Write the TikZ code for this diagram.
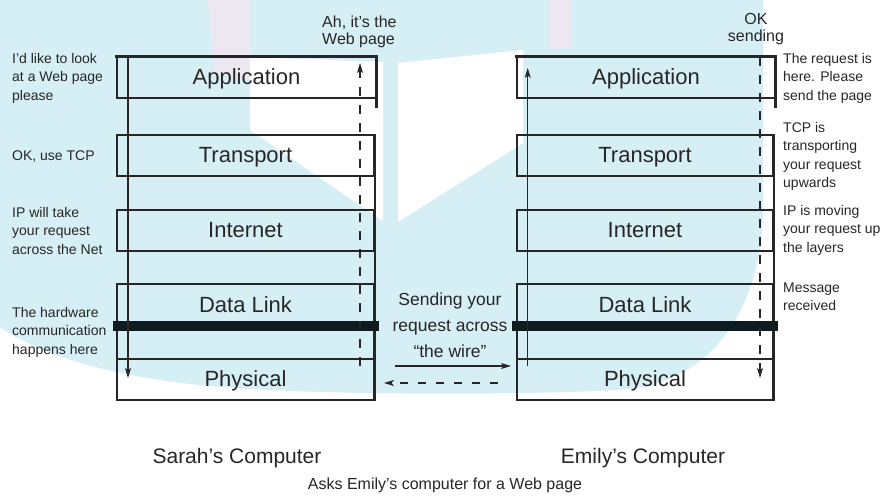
\documentclass[tikz,border=0pt]{standalone}
\usepackage{fontspec}
\setmainfont{Liberation Sans}
\usetikzlibrary{arrows.meta}
\definecolor{wmcyan}{RGB}{214,239,245}
\definecolor{wmlav}{RGB}{236,231,241}
\definecolor{ink}{RGB}{38,38,38}
\definecolor{barink}{RGB}{14,28,32}
\begin{document}
\begin{tikzpicture}[x=1pt,y=-1pt,
  layer/.style={draw=ink, line width=1.1pt, inner sep=0pt, minimum height=41pt,
    text height=16pt, text depth=2pt, text=ink, font=\fontsize{22}{24}\selectfont},
  side/.style={align=left, anchor=base west, inner sep=0pt, text=ink,
    font=\fontsize{14}{18.5}\selectfont},
  toplbl/.style={inner sep=0pt, text=ink, font=\fontsize{16}{17}\selectfont},
  edge/.style={draw=ink, line width=2pt},
  heavy/.style={draw=ink, line width=3.2pt, line cap=butt, line join=miter},
  wire/.style={draw=barink, line width=10pt},
  solidarr/.style={draw=ink, line width=1.1pt, -{Stealth[length=10pt,width=6pt,inset=2.5pt]}},
  dasharr/.style={draw=ink, line width=1.1pt, dash pattern=on 9pt off 9pt,
    -{Stealth[length=10pt,width=6pt,inset=2.5pt]}},
  hdasharr/.style={draw=ink, line width=1.1pt, dash pattern=on 8pt off 10pt,
    -{Stealth[length=10pt,width=6pt,inset=2.5pt]}}
]
\useasboundingbox (0,0) rectangle (895,499);
% watermark
\fill[wmcyan] (0,0) -- (763,0) -- (763,205)
  .. controls (763,300) and (720,372) .. (640,388)
  .. controls (560,396) and (300,396) .. (200,385)
  .. controls (110,376) and (40,355) .. (0,327) -- cycle;
\fill[wmlav] (208,0) -- (250,0) -- (250,80) -- (214,75) -- cycle;
\fill[wmlav] (550,0) -- (572,0) -- (572,46) -- (550,50) -- cycle;
\fill[white] (250,57) -- (383,62) -- (383,221) -- (250,130) -- cycle;
\fill[white] (398,63) -- (523,50) -- (523,143) -- (398,222) -- cycle;

% Sarah's layers
\node[layer, minimum width=259pt] (sapp) at (246.5,77.5) {Application};
\node[layer, minimum width=257pt] (stra) at (245.5,155.5) {Transport};
\node[layer, minimum width=257pt] (sint) at (245.5,230.5) {Internet};
\node[layer, minimum width=257pt, minimum height=75pt, text depth=34pt] (sdl) at (245.5,321.5) {Data Link};
\node[layer, minimum width=257pt] (sphy) at (245.5,379.5) {Physical};
% Emily's layers
\node[layer, minimum width=258pt] (eapp) at (646,77.5) {Application};
\node[layer, minimum width=256pt] (etra) at (645,155.5) {Transport};
\node[layer, minimum width=256pt] (eint) at (645,230.5) {Internet};
\node[layer, minimum width=256pt, minimum height=75pt, text depth=34pt] (edl) at (645,321.5) {Data Link};
\node[layer, minimum width=256pt] (ephy) at (645,379.5) {Physical};

% heavy edges
\draw[edge] (stra.north east) -- (sphy.south east);
\draw[edge] (etra.north east) -- (ephy.south east);
\draw[heavy] ([xshift=-1pt]sapp.north west) -- (sapp.north east) -- ([yshift=-9pt]sapp.south east);
\draw[heavy] ([xshift=-1pt]eapp.north west) -- (eapp.north east) -- ([yshift=-9pt]eapp.south east);
\draw[wire] (113,326) -- (379,326);
\draw[wire] (512,326) -- (778,326);

% flow arrows
\coordinate (sd0) at (128,57);   \coordinate (sd1) at (128,378);
\coordinate (su0) at (360,366);  \coordinate (su1) at (360,63);
\coordinate (eu0) at (527.7,366);\coordinate (eu1) at (527.7,68);
\coordinate (ed0) at (760,57);   \coordinate (ed1) at (760,378);
\coordinate (w0) at (395,366);   \coordinate (w1) at (511,366);
\coordinate (r0) at (498,383);   \coordinate (r1) at (384,383);
\draw[solidarr] (sd0) -- (sd1);
\draw[dasharr] (su0) -- (su1);
\draw[solidarr] (eu0) -- (eu1);
\draw[dasharr] (ed0) -- (ed1);
\draw[solidarr] (w0) -- (w1);
\draw[hdasharr] (r0) -- (r1);

% side texts (anchored at the baseline of the last line)
\node[side] (t1) at (12,100) {I’d like to look\\at a Web page\\please};
\node[side] (t2) at (12,160) {OK, use TCP};
\node[side] (t3) at (12,254) {IP will take\\your request\\across the Net};
\node[side] (t4) at (12,354) {The hardware\\communication\\happens here};
\node[side] (t5) at (783,100) {The request is\\here. Please\\send the page};
\node[side] (t6) at (783,187.5) {TCP is\\transporting\\your request\\upwards};
\node[side] (t7) at (783,252) {IP is moving\\your request up\\the layers};
\node[side] (t8) at (783,310.5) {Message\\received};

% top texts
\node[toplbl, align=left, anchor=base west] (ah) at (322,44) {Ah, it’s the\\Web page};
\node[toplbl, align=center, anchor=base] (ok) at (756,41) {OK\\sending};
\node[inner sep=0pt, text=ink, align=center, anchor=base, font=\fontsize{17.5}{26}\selectfont] (wiretxt) at (450,357) {Sending your\\request across\\“the wire”};

% bottom texts
\node[inner sep=0pt, text=ink, anchor=base, font=\fontsize{21}{24}\selectfont] (sarah) at (237,463) {Sarah’s Computer};
\node[inner sep=0pt, text=ink, anchor=base, font=\fontsize{21}{24}\selectfont] (emily) at (643,463) {Emily’s Computer};
\node[inner sep=0pt, text=ink, anchor=base, font=\fontsize{16}{18}\selectfont] (asks) at (445,489) {Asks Emily’s computer for a Web page};
\end{tikzpicture}
\end{document}
